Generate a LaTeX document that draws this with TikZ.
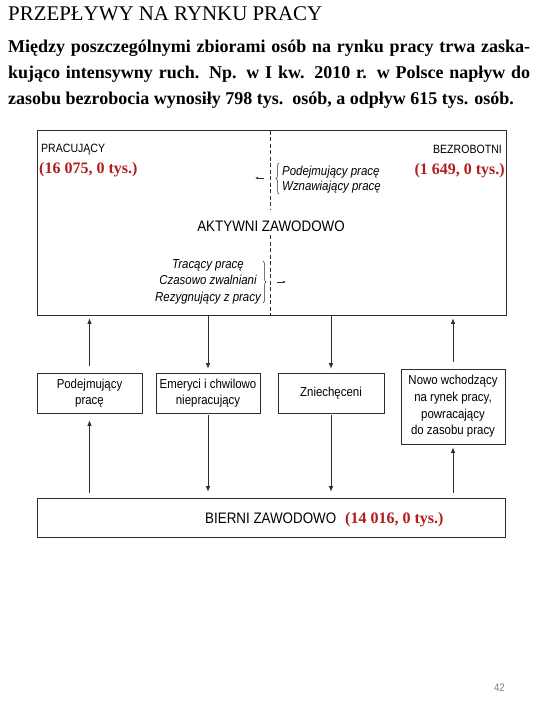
\documentclass[tikz,border=0pt]{standalone}
\usepackage{fontspec}
\setmainfont{Liberation Serif}
\newfontfamily\dsans[FakeStretch=0.88]{Liberation Sans}
\usetikzlibrary{arrows.meta,decorations.pathreplacing}
\definecolor{numred}{RGB}{178,30,30}
\definecolor{linegray}{RGB}{45,45,45}
\definecolor{pagegray}{RGB}{130,130,130}
\begin{document}
\begin{tikzpicture}[x=1pt,y=-1pt,
  box/.style={draw=linegray, line width=0.8pt, inner sep=0pt, align=center, font=\dsans\fontsize{13}{16.6}\selectfont},
  arr/.style={draw=linegray, line width=0.7pt, -{Latex[length=5.5pt,width=4.5pt]}},
  small/.style={draw=linegray, line width=0.6pt, -{Latex[length=3pt,width=2.5pt]}},
  lbl/.style={inner sep=0pt, font=\dsans\fontsize{12}{14}\selectfont},
  big/.style={inner sep=0pt, font=\dsans\fontsize{15.2}{18}\selectfont},
  num/.style={inner sep=0pt, text=numred, font=\fontsize{16}{19}\selectfont\bfseries},
  itl/.style={inner sep=0pt, font=\dsans\itshape\fontsize{13}{15}\selectfont},
  br/.style={draw=linegray, line width=0.5pt, decorate, decoration={brace, amplitude=3pt}},
  divider/.style={draw=linegray, line width=0.5pt, dash pattern=on 4pt off 2.5pt}
]
\useasboundingbox[fill=white] (0,0) rectangle (540,720);

% heading
\node[anchor=base west, inner sep=0pt] (title) at (8,20)
  {\fontsize{20.9}{24}\selectfont PRZEPŁYWY NA RYNKU PRACY};
\node[anchor=base west, inner sep=0pt] (p1) at (8,52)
  {\fontsize{18}{26}\selectfont\bfseries\makebox[522pt][s]{Między poszczególnymi zbiorami osób na rynku pracy trwa zaska-}};
\node[anchor=base west, inner sep=0pt] (p2) at (8,78)
  {\fontsize{18}{26}\selectfont\bfseries\makebox[522pt][s]{kująco intensywny ruch. Np. w I kw. 2010 r. w Polsce napływ do}};
\node[anchor=base west, inner sep=0pt] (p3) at (8,104)
  {\fontsize{18}{26}\selectfont\bfseries zasobu bezrobocia wynosiły 798 tys.\ \ osób, a odpływ 615 tys. osób.};

% top box
\node[box, minimum width=469pt, minimum height=185pt] (top) at (271.5,222.5) {};
\draw[divider] (270,130.5) -- (270,210);
\draw[divider] (270,235) -- (270,315);

\node[lbl, anchor=base west] (prac) at (41,152) {PRACUJĄCY};
\node[num, anchor=base west] (pracn) at (39,173) {(16 075, 0 tys.)};
\node[lbl, anchor=base east] (bezr) at (502,153) {BEZROBOTNI};
\node[num, anchor=base east] (bezrn) at (505,174) {(1 649, 0 tys.)};
\node[big] (akt) at (271,226) {AKTYWNI ZAWODOWO};

\node[itl, anchor=base west, align=left] (podg) at (282,190)
  {Podejmujący pracę\\Wznawiający pracę};
\draw[br] (279,194) -- (279,163);
\coordinate (la1) at (264,178);
\coordinate (la2) at (255,178);
\draw[small] (la1) -- (la2);

\node[itl, anchor=base, align=center, font=\dsans\itshape\fontsize{13}{16.5}\selectfont] (tracg) at (208,301)
  {Tracący pracę\\Czasowo zwalniani\\Rezygnujący z pracy};
\draw[br] (263,261) -- (263,303);
\coordinate (ra1) at (277,282);
\coordinate (ra2) at (286,282);
\draw[small] (ra1) -- (ra2);

% middle boxes
\node[box, minimum width=105pt, minimum height=40pt] (pod) at (89.5,393) {Podejmujący\\pracę};
\node[box, minimum width=104pt, minimum height=40pt] (em) at (208,393) {Emeryci i chwilowo\\niepracujący};
\node[box, minimum width=106pt, minimum height=40pt] (zn) at (331,393) {Zniechęceni};
\node[box, minimum width=104pt, minimum height=75pt] (nowo) at (453,406.5)
  {Nowo wchodzący\\na rynek pracy,\\powracający\\do zasobu pracy};

% bottom box
\node[box, minimum width=468pt, minimum height=39pt] (bier) at (271,517.5) {};
\node[big, anchor=base west] (biert) at (205,523) {BIERNI ZAWODOWO};
\node[num, anchor=base west] (biern) at (345,523) {(14 016, 0 tys.)};

% connectors top <-> middle
\draw[arr, shorten <=7pt, shorten >=3pt] (pod.north) -- (pod.north |- top.south);
\draw[arr, shorten <=1pt, shorten >=4pt] (em.north |- top.south) -- (em.north);
\draw[arr, shorten <=1pt, shorten >=4pt] (zn.north |- top.south) -- (zn.north);
\draw[arr, shorten <=7pt, shorten >=3pt] (nowo.north) -- (nowo.north |- top.south);

% connectors bottom <-> middle
\draw[arr, shorten <=5pt, shorten >=7pt] (pod.south |- bier.north) -- (pod.south);
\draw[arr, shorten <=2pt, shorten >=6pt] (em.south) -- (em.south |- bier.north);
\draw[arr, shorten <=2pt, shorten >=6pt] (zn.south) -- (zn.south |- bier.north);
\draw[arr, shorten <=5pt, shorten >=3pt] (nowo.south |- bier.north) -- (nowo.south);

% page number
\node[inner sep=0pt, anchor=base east, text=pagegray, font=\dsans\fontsize{11}{13}\selectfont] (pg) at (505,691) {42};
\end{tikzpicture}
\end{document}
